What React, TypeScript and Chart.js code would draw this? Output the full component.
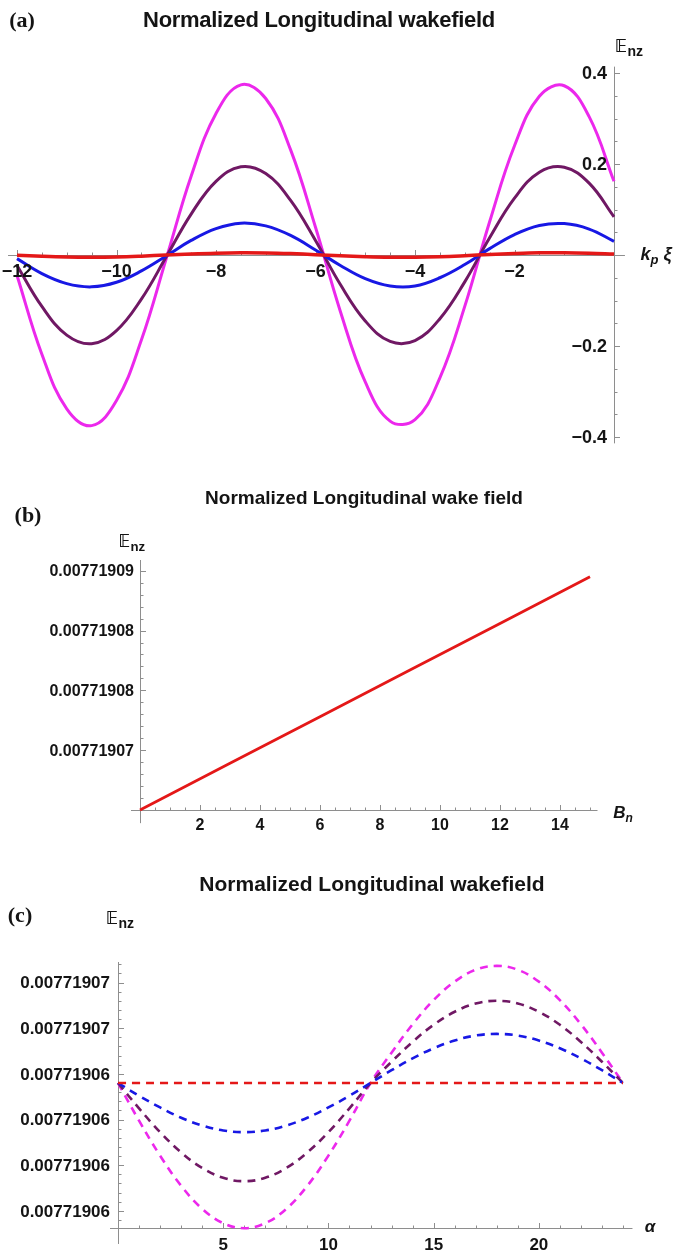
import React, { useEffect, useRef } from "react";
import { Chart, registerables } from "chart.js";

Chart.register(...registerables);

// ---------------- Panel (a): E_nz versus k_p xi ----------------
const A_XI = [-12, -11.5, -11, -10.5, -10, -9.5, -9, -8.5, -8, -7.5, -7, -6.5, -6, -5.5, -5, -4.5, -4, -3.5, -3, -2.5, -2, -1.5, -1, -0.5, 0];
const A_MAGENTA = [-0.045, -0.218, -0.338, -0.375, -0.32, -0.187, -0.008, 0.173, 0.311, 0.374, 0.344, 0.231, 0.061, -0.124, -0.279, -0.365, -0.362, -0.27, -0.113, 0.073, 0.24, 0.349, 0.372, 0.304, 0.162];
const A_PURPLE = [-0.023, -0.113, -0.176, -0.195, -0.166, -0.097, -0.004, 0.09, 0.162, 0.194, 0.179, 0.12, 0.032, -0.065, -0.145, -0.19, -0.188, -0.14, -0.059, 0.038, 0.125, 0.182, 0.193, 0.158, 0.084];
const A_BLUE = [-0.008, -0.041, -0.063, -0.07, -0.06, -0.035, -0.002, 0.032, 0.058, 0.07, 0.064, 0.043, 0.011, -0.023, -0.052, -0.068, -0.068, -0.05, -0.021, 0.014, 0.045, 0.065, 0.069, 0.057, 0.03];
const A_RED = [-0.0006, -0.0029, -0.0045, -0.005, -0.0043, -0.0025, -0.0001, 0.0023, 0.0041, 0.005, 0.0046, 0.0031, 0.0008, -0.0017, -0.0037, -0.0049, -0.0048, -0.0036, -0.0015, 0.001, 0.0032, 0.0047, 0.005, 0.0041, 0.0022];
const A_X_TICKS = [-12, -10, -8, -6, -4, -2];
const A_X_TICK_LABELS = ["\u221212", "\u221210", "\u22128", "\u22126", "\u22124", "\u22122"];
const A_Y_TICKS = [-0.4, -0.2, 0.2, 0.4];
const A_Y_TICK_LABELS = ["\u22120.4", "\u22120.2", "0.2", "0.4"];

// ---------------- Panel (b): E_nz versus B_n ----------------
const B_BN = [0, 3, 6, 9, 12, 15];
const B_RED = [0.007719065, 0.0077190689, 0.0077190728, 0.0077190767, 0.0077190806, 0.0077190845];
const B_X_TICKS = [2, 4, 6, 8, 10, 12, 14];
const B_X_TICK_LABELS = ["2", "4", "6", "8", "10", "12", "14"];
const B_Y_TICKS = [0.00771907, 0.007719075, 0.00771908, 0.007719085];
const B_Y_TICK_LABELS = ["0.00771907", "0.00771908", "0.00771908", "0.00771909"];

// ---------------- Panel (c): E_nz versus alpha ----------------
const C_ALPHA = [0, 1, 2, 3, 4, 5, 6, 7, 8, 9, 10, 11, 12, 13, 14, 15, 16, 17, 18, 19, 20, 21, 22, 23, 24];
const C_RED = [0.0077190626, 0.0077190626, 0.0077190626, 0.0077190626, 0.0077190626, 0.0077190626, 0.0077190626, 0.0077190626, 0.0077190626, 0.0077190626, 0.0077190626, 0.0077190626, 0.0077190626, 0.0077190626, 0.0077190626, 0.0077190626, 0.0077190626, 0.0077190626, 0.0077190626, 0.0077190626, 0.0077190626, 0.0077190626, 0.0077190626, 0.0077190626, 0.0077190626];
const C_BLUE = [0.0077190626, 0.00771906204, 0.00771906153, 0.00771906108, 0.00771906074, 0.00771906052, 0.00771906045, 0.00771906052, 0.00771906074, 0.00771906108, 0.00771906153, 0.00771906204, 0.0077190626, 0.00771906316, 0.00771906368, 0.00771906412, 0.00771906446, 0.00771906468, 0.00771906475, 0.00771906468, 0.00771906446, 0.00771906412, 0.00771906368, 0.00771906316, 0.0077190626];
const C_PURPLE = [0.0077190626, 0.00771906149, 0.00771906045, 0.00771905956, 0.00771905888, 0.00771905845, 0.0077190583, 0.00771905845, 0.00771905888, 0.00771905956, 0.00771906045, 0.00771906149, 0.0077190626, 0.00771906353, 0.0077190644, 0.00771906515, 0.00771906572, 0.00771906608, 0.0077190662, 0.00771906608, 0.00771906572, 0.00771906515, 0.0077190644, 0.00771906353, 0.0077190626];
const C_MAGENTA = [0.0077190626, 0.00771906095, 0.00771905942, 0.0077190581, 0.00771905709, 0.00771905646, 0.00771905624, 0.00771905646, 0.00771905709, 0.0077190581, 0.00771905942, 0.00771906095, 0.0077190626, 0.00771906393, 0.00771906517, 0.00771906623, 0.00771906704, 0.00771906756, 0.00771906773, 0.00771906756, 0.00771906704, 0.00771906623, 0.00771906517, 0.00771906393, 0.0077190626];
const C_X_TICKS = [5, 10, 15, 20];
const C_X_TICK_LABELS = ["5", "10", "15", "20"];
const C_Y_TICKS = [0.007719057, 0.007719059, 0.007719061, 0.007719063, 0.007719065, 0.007719067];
const C_Y_TICK_LABELS = ["0.00771906", "0.00771906", "0.00771906", "0.00771906", "0.00771907", "0.00771907"];

// ---------------- styling ----------------
const W = 674;
const MAGENTA = "rgb(236, 40, 236)";
const PURPLE = "rgb(112, 24, 100)";
const BLUE = "rgb(24, 24, 228)";
const RED = "rgb(228, 24, 24)";
const AXIS_COLOR = "#8e8e8e";
const TEXT_COLOR = "#141414";

type Minor = { from: number; step: number; count: number };
type AxesCfg = {
  xAt: number;
  yAt: number;
  xLine: [number, number];
  yLine: [number, number];
  xMajor: number[];
  xLabels: string[];
  yMajor: number[];
  yLabels: string[];
  xMinor: Minor;
  yMinor: Minor;
  font: string;
  xLabelGap: number;
  yLabelGap: number;
};

function mathAxes(cfg: AxesCfg) {
  return {
    id: "mathAxes",
    beforeDatasetsDraw(chart: any) {
      const ctx = chart.ctx;
      const xs = chart.scales.x;
      const ys = chart.scales.y;
      const py = Math.round(ys.getPixelForValue(cfg.xAt)) + 0.5;
      const px = Math.round(xs.getPixelForValue(cfg.yAt)) + 0.5;
      ctx.save();
      ctx.strokeStyle = AXIS_COLOR;
      ctx.lineWidth = 1;
      ctx.beginPath();
      ctx.moveTo(xs.getPixelForValue(cfg.xLine[0]), py);
      ctx.lineTo(xs.getPixelForValue(cfg.xLine[1]), py);
      ctx.moveTo(px, ys.getPixelForValue(cfg.yLine[0]));
      ctx.lineTo(px, ys.getPixelForValue(cfg.yLine[1]));
      for (let i = 0; i <= cfg.xMinor.count; i++) {
        const x = Math.round(xs.getPixelForValue(cfg.xMinor.from + i * cfg.xMinor.step)) + 0.5;
        ctx.moveTo(x, py);
        ctx.lineTo(x, py - 3);
      }
      for (let i = 0; i <= cfg.yMinor.count; i++) {
        const y = Math.round(ys.getPixelForValue(cfg.yMinor.from + i * cfg.yMinor.step)) + 0.5;
        ctx.moveTo(px, y);
        ctx.lineTo(px + 3, y);
      }
      cfg.xMajor.forEach((v) => {
        const x = Math.round(xs.getPixelForValue(v)) + 0.5;
        ctx.moveTo(x, py);
        ctx.lineTo(x, py - 5.5);
      });
      cfg.yMajor.forEach((v) => {
        const y = Math.round(ys.getPixelForValue(v)) + 0.5;
        ctx.moveTo(px, y);
        ctx.lineTo(px + 5.5, y);
      });
      ctx.stroke();
      ctx.restore();
    },
    afterDatasetsDraw(chart: any) {
      const ctx = chart.ctx;
      const xs = chart.scales.x;
      const ys = chart.scales.y;
      const py = ys.getPixelForValue(cfg.xAt);
      const px = xs.getPixelForValue(cfg.yAt);
      ctx.save();
      ctx.fillStyle = TEXT_COLOR;
      ctx.font = cfg.font;
      ctx.textAlign = "center";
      ctx.textBaseline = "middle";
      cfg.xMajor.forEach((v, i) => {
        ctx.fillText(cfg.xLabels[i], xs.getPixelForValue(v), py + cfg.xLabelGap);
      });
      ctx.textAlign = "right";
      cfg.yMajor.forEach((v, i) => {
        ctx.fillText(cfg.yLabels[i], px - cfg.yLabelGap, ys.getPixelForValue(v) + 1);
      });
      ctx.restore();
    },
  };
}

function pts(xs: number[], ys: number[]) {
  return xs.map((x, i) => ({ x, y: ys[i] }));
}

function makeConfig(
  datasets: any[],
  range: { xMin: number; xMax: number; yMin: number; yMax: number },
  padding: { left: number; right: number; top: number; bottom: number },
  axes: AxesCfg
): any {
  return {
    type: "line",
    data: { datasets },
    options: {
      animation: false,
      responsive: false,
      maintainAspectRatio: false,
      events: [],
      layout: { padding },
      plugins: { legend: { display: false }, tooltip: { enabled: false }, title: { display: false } },
      elements: { point: { radius: 0 } },
      scales: {
        x: { type: "linear", min: range.xMin, max: range.xMax, display: false },
        y: { type: "linear", min: range.yMin, max: range.yMax, display: false },
      },
    },
    plugins: [mathAxes(axes)],
  };
}

function solid(data: any, color: string, width: number) {
  return { data, borderColor: color, borderWidth: width, tension: 0.4, fill: false, clip: false, pointRadius: 0 };
}
function dashed(data: any, color: string, width: number) {
  return { ...solid(data, color, width), borderDash: [8, 6] };
}

function configA() {
  return makeConfig(
    [
      solid(pts(A_XI, A_RED), RED, 3.5),
      solid(pts(A_XI, A_BLUE), BLUE, 3),
      solid(pts(A_XI, A_PURPLE), PURPLE, 3),
      solid(pts(A_XI, A_MAGENTA), MAGENTA, 3),
    ],
    { xMin: -12, xMax: 0, yMin: -0.4, yMax: 0.4 },
    { left: 17, right: W - 614, top: 73, bottom: 455 - 437 },
    {
      xAt: 0,
      yAt: 0,
      xLine: [-12.18, 0.22],
      yLine: [-0.414, 0.414],
      xMajor: A_X_TICKS,
      xLabels: A_X_TICK_LABELS,
      yMajor: A_Y_TICKS,
      yLabels: A_Y_TICK_LABELS,
      xMinor: { from: -12, step: 0.5, count: 24 },
      yMinor: { from: -0.4, step: 0.05, count: 16 },
      font: "bold 18px 'Liberation Sans', Arial, sans-serif",
      xLabelGap: 17,
      yLabelGap: 7,
    }
  );
}

function configB() {
  return makeConfig(
    [{ ...solid(pts(B_BN, B_RED), RED, 2.8), tension: 0 }],
    { xMin: 0, xMax: 15, yMin: 0.007719065, yMax: 0.0077190859 },
    { left: 140, right: W - 590, top: 105, bottom: 400 - 355 },
    {
      xAt: 0.007719065,
      yAt: 0,
      xLine: [-0.3, 15.25],
      yLine: [0.0077190639, 0.0077190859],
      xMajor: B_X_TICKS,
      xLabels: B_X_TICK_LABELS,
      yMajor: B_Y_TICKS,
      yLabels: B_Y_TICK_LABELS,
      xMinor: { from: 0, step: 0.5, count: 30 },
      yMinor: { from: 0.007719065, step: 0.000000001, count: 20 },
      font: "bold 16px 'Liberation Sans', Arial, sans-serif",
      xLabelGap: 16,
      yLabelGap: 6,
    }
  );
}

function configC() {
  return makeConfig(
    [
      dashed(pts(C_ALPHA, C_RED), RED, 2.6),
      dashed(pts(C_ALPHA, C_BLUE), BLUE, 2.6),
      dashed(pts(C_ALPHA, C_PURPLE), PURPLE, 2.6),
      dashed(pts(C_ALPHA, C_MAGENTA), MAGENTA, 2.6),
    ],
    { xMin: 0, xMax: 24, yMin: 0.00771905625, yMax: 0.0077190679 },
    { left: 118, right: W - 623, top: 107, bottom: 399 - 373 },
    {
      xAt: 0.00771905625,
      yAt: 0,
      xLine: [-0.38, 24.45],
      yLine: [0.00771905555, 0.0077190679],
      xMajor: C_X_TICKS,
      xLabels: C_X_TICK_LABELS,
      yMajor: C_Y_TICKS,
      yLabels: C_Y_TICK_LABELS,
      xMinor: { from: 0, step: 1, count: 24 },
      yMinor: { from: 0.0077190566, step: 0.0000000004, count: 28 },
      font: "bold 17px 'Liberation Sans', Arial, sans-serif",
      xLabelGap: 17,
      yLabelGap: 8,
    }
  );
}

function Panel({ top, height, make }: { top: number; height: number; make: () => any }) {
  const ref = useRef<HTMLCanvasElement>(null);
  useEffect(() => {
    const chart = new Chart(ref.current as HTMLCanvasElement, make());
    return () => chart.destroy();
  }, []);
  return (
    <canvas
      ref={ref}
      width={W}
      height={height}
      style={{ position: "absolute", left: 0, top, width: W, height }}
    />
  );
}

const sans = "'Liberation Sans', Arial, sans-serif";
const serif = "'Liberation Serif', 'Times New Roman', serif";

function Label({ x, y, children, style }: { x: number; y: number; children: any; style?: any }) {
  return (
    <div
      style={{
        position: "absolute",
        left: x,
        top: y,
        transform: "translate(-50%, -50%)",
        whiteSpace: "nowrap",
        color: TEXT_COLOR,
        lineHeight: 1,
        ...style,
      }}
    >
      {children}
    </div>
  );
}

function Enz({ size }: { size: number }) {
  return (
    <span>
      <span style={{ fontFamily: "'DejaVu Sans', sans-serif", fontWeight: "bold", fontSize: size }}>{"\u{1D53C}"}</span>
      <span
        style={{
          fontFamily: sans,
          fontWeight: "bold",
          fontSize: size * 0.78,
          position: "relative",
          top: size * 0.22,
        }}
      >
        nz
      </span>
    </span>
  );
}

export default function App() {
  const titleA = "Normalized Longitudinal wakefield";
  const titleB = "Normalized Longitudinal wake field";
  const titleC = "Normalized Longitudinal wakefield";
  return (
    <div
      style={{
        position: "absolute",
        left: 0,
        top: 0,
        width: W,
        height: 1254,
        background: "#fff",
        overflow: "hidden",
      }}
    >
      <Panel top={0} height={455} make={configA} />
      <Panel top={455} height={400} make={configB} />
      <Panel top={855} height={399} make={configC} />

      <Label x={22} y={20} style={{ fontFamily: serif, fontWeight: "bold", fontSize: 22 }}>(a)</Label>
      <Label x={319} y={20} style={{ fontFamily: sans, fontWeight: "bold", fontSize: 22, letterSpacing: -0.3 }}>{titleA}</Label>
      <Label x={629} y={46}><Enz size={18} /></Label>
      <Label x={656} y={254} style={{ fontFamily: sans, fontWeight: "bold", fontStyle: "italic", fontSize: 18 }}>
        k<span style={{ fontSize: 13, position: "relative", top: 4 }}>p</span> ξ
      </Label>

      <Label x={28} y={515} style={{ fontFamily: serif, fontWeight: "bold", fontSize: 22 }}>(b)</Label>
      <Label x={364} y={497} style={{ fontFamily: sans, fontWeight: "bold", fontSize: 19 }}>{titleB}</Label>
      <Label x={132} y={541}><Enz size={17} /></Label>
      <Label x={623} y={812} style={{ fontFamily: sans, fontWeight: "bold", fontStyle: "italic", fontSize: 17 }}>
        B<span style={{ fontSize: 12, position: "relative", top: 4 }}>n</span>
      </Label>

      <Label x={20} y={915} style={{ fontFamily: serif, fontWeight: "bold", fontSize: 22 }}>(c)</Label>
      <Label x={372} y={883} style={{ fontFamily: sans, fontWeight: "bold", fontSize: 21 }}>{titleC}</Label>
      <Label x={120} y={918}><Enz size={18} /></Label>
      <Label x={650} y={1226} style={{ fontFamily: sans, fontWeight: "bold", fontStyle: "italic", fontSize: 17 }}>α</Label>
    </div>
  );
}
